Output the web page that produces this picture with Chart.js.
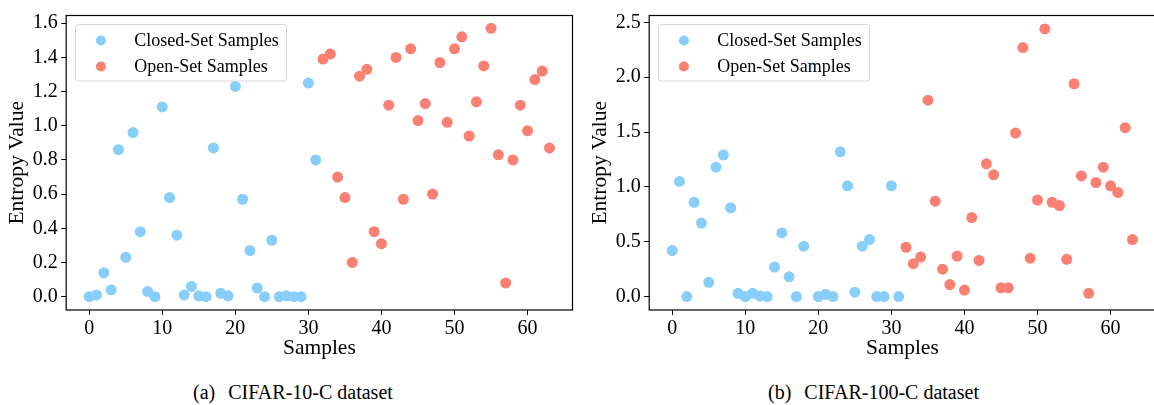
<!DOCTYPE html>
<html>
<head>
<meta charset="utf-8">
<script src="https://cdn.jsdelivr.net/npm/chart.js@4/dist/chart.umd.min.js"></script>
<style>
  html, body { margin: 0; padding: 0; background: #fff; width: 1154px; height: 405px; overflow: hidden; }
  .panel { position: absolute; top: 0; }
  .caption { position: absolute; top: 379px; font-family: "Liberation Serif", serif; font-size: 20px; line-height: 26px; color: #000; white-space: nowrap; }
  .caption span { margin-right: 13px; }
</style>
</head>
<body>
<canvas id="chartA" class="panel" width="578" height="370" style="left:0px"></canvas>
<canvas id="chartB" class="panel" width="578" height="370" style="left:583px"></canvas>
<div class="caption" style="left:193px"><span>(a)</span>CIFAR-10-C dataset</div>
<div class="caption" style="left:768px"><span>(b)</span>CIFAR-100-C dataset</div>
<script>
// sample indices
const closedIdx = [0,1,2,3,4,5,6,7,8,9,10,11,12,13,14,15,16,17,18,19,20,21,22,23,24,25,26,27,28,29,30,31];
const openIdx = [32,33,34,35,36,37,38,39,40,41,42,43,44,45,46,47,48,49,50,51,52,53,54,55,56,57,58,59,60,61,62,63];

// CIFAR-10-C entropy values
const c10Closed = [0.00,0.01,0.14,0.04,0.86,0.23,0.96,0.38,0.03,0.00,1.11,0.58,0.36,0.01,0.06,0.005,0.00,0.87,0.02,0.005,1.23,0.57,0.27,0.05,0.00,0.33,0.00,0.005,0.00,0.00,1.25,0.80];
const c10Open = [1.39,1.42,0.70,0.58,0.20,1.29,1.33,0.38,0.31,1.12,1.40,0.57,1.45,1.03,1.13,0.60,1.37,1.02,1.45,1.52,0.94,1.14,1.35,1.57,0.83,0.08,0.80,1.12,0.97,1.27,1.32,0.87];

// CIFAR-100-C entropy values
const c100Closed = [0.42,1.05,0.00,0.86,0.67,0.13,1.18,1.29,0.81,0.03,0.00,0.03,0.005,0.00,0.27,0.58,0.18,0.00,0.46,2.11,0.00,0.02,0.00,1.32,1.01,0.04,0.46,0.52,0.00,0.00,1.01,0.00];
const c100Open = [0.45,0.30,0.36,1.79,0.87,0.25,0.11,0.37,0.06,0.72,0.33,1.21,1.11,0.08,0.08,1.49,2.27,0.35,0.88,2.44,0.86,0.83,0.34,1.94,1.10,0.03,1.04,1.18,1.01,0.95,1.54,0.52];

// tick labels
const xTickVals = [0,10,20,30,40,50,60];
const yTicksA = [0.0,0.2,0.4,0.6,0.8,1.0,1.2,1.4,1.6];
const yTicksB = [0.0,0.5,1.0,1.5,2.0,2.5];

const seriesNames = ["Closed-Set Samples", "Open-Set Samples"];
const closedColor = "#87CEFA";
const openColor = "#FA8072";
const serif = "'Liberation Serif', 'Times New Roman', serif";

function toPoints(xs, ys) {
    return ys.map((v, i) => ({ x: xs[i], y: v }));
}

// frame around the plot area
const framePlugin = {
    id: 'frame',
    beforeDatasetsDraw(chart) {
        const a = chart.chartArea;
        const ctx = chart.ctx;
        ctx.save();
        ctx.strokeStyle = '#000';
        ctx.lineWidth = 1.2;
        ctx.strokeRect(a.left, a.top, a.right - a.left, a.bottom - a.top);
        ctx.restore();
    }
};

// legend drawn inside the plot, over the points
const insideLegend = {
    id: 'insideLegend',
    afterDatasetsDraw(chart) {
        const a = chart.chartArea;
        const ctx = chart.ctx;
        const x0 = a.left + 9.3, y0 = a.top + 9, w = 211, h = 56.5, r = 3;
        ctx.save();
        ctx.beginPath();
        ctx.roundRect(x0, y0, w, h, r);
        ctx.fillStyle = 'rgba(255,255,255,0.8)';
        ctx.fill();
        ctx.strokeStyle = '#d6d6d6';
        ctx.lineWidth = 1;
        ctx.stroke();
        ctx.font = "18px " + serif;
        ctx.textBaseline = 'middle';
        chart.data.datasets.forEach((ds, i) => {
            const cy = y0 + 16 + i * 26;
            ctx.beginPath();
            ctx.arc(x0 + 25.4, cy, 5, 0, Math.PI * 2);
            ctx.fillStyle = ds.backgroundColor;
            ctx.fill();
            ctx.fillStyle = '#000';
            ctx.fillText(ds.label, x0 + 58.7, cy + 1);
        });
        ctx.restore();
    }
};

function makeChart(id, closedVals, openVals, yTicks, yMin, yMax) {
    const ctx = document.getElementById(id).getContext('2d');
    return new Chart(ctx, {
        type: 'scatter',
        data: {
            datasets: [{
                label: seriesNames[0],
                data: toPoints(closedIdx, closedVals),
                backgroundColor: closedColor,
                borderWidth: 0,
                pointRadius: 5.5,
                pointHoverRadius: 5.5
            }, {
                label: seriesNames[1],
                data: toPoints(openIdx, openVals),
                backgroundColor: openColor,
                borderWidth: 0,
                pointRadius: 5.5,
                pointHoverRadius: 5.5
            }]
        },
        options: {
            responsive: false,
            animation: false,
            devicePixelRatio: 1,
            layout: { padding: { top: 7, right: 4.2, bottom: 0, left: 0 } },
            plugins: {
                legend: { display: false },
                tooltip: { enabled: false }
            },
            scales: {
                x: {
                    type: 'linear',
                    min: -3.15,
                    max: 66.15,
                    afterBuildTicks: s => { s.ticks = xTickVals.map(v => ({ value: v })); },
                    afterFit: s => { s.height = 60; },
                    border: { display: false },
                    grid: { drawOnChartArea: false, drawTicks: true, tickLength: 5, color: '#000', tickColor: '#000', tickWidth: 1 },
                    ticks: { color: '#000', font: { family: serif, size: 20 }, padding: 1.5, maxRotation: 0 },
                    title: { display: true, text: 'Samples', color: '#000', font: { family: serif, size: 21.5 }, padding: { top: 0, bottom: 9 } }
                },
                y: {
                    type: 'linear',
                    min: yMin,
                    max: yMax,
                    afterBuildTicks: s => { s.ticks = yTicks.map(v => ({ value: v })); },
                    afterFit: s => { s.width = 66.2; },
                    border: { display: false },
                    grid: { drawOnChartArea: false, drawTicks: true, tickLength: 5, color: '#000', tickColor: '#000', tickWidth: 1 },
                    ticks: { color: '#000', font: { family: serif, size: 20 }, padding: 3.5, callback: v => Number(v).toFixed(1) },
                    title: { display: true, text: 'Entropy Value', color: '#000', font: { family: serif, size: 21.5 }, padding: { top: 4.5, bottom: 0 } }
                }
            }
        },
        plugins: [framePlugin, insideLegend]
    });
}

makeChart('chartA', c10Closed, c10Open, yTicksA, -0.078, 1.645);
makeChart('chartB', c100Closed, c100Open, yTicksB, -0.122, 2.562);
</script>
</body>
</html>
